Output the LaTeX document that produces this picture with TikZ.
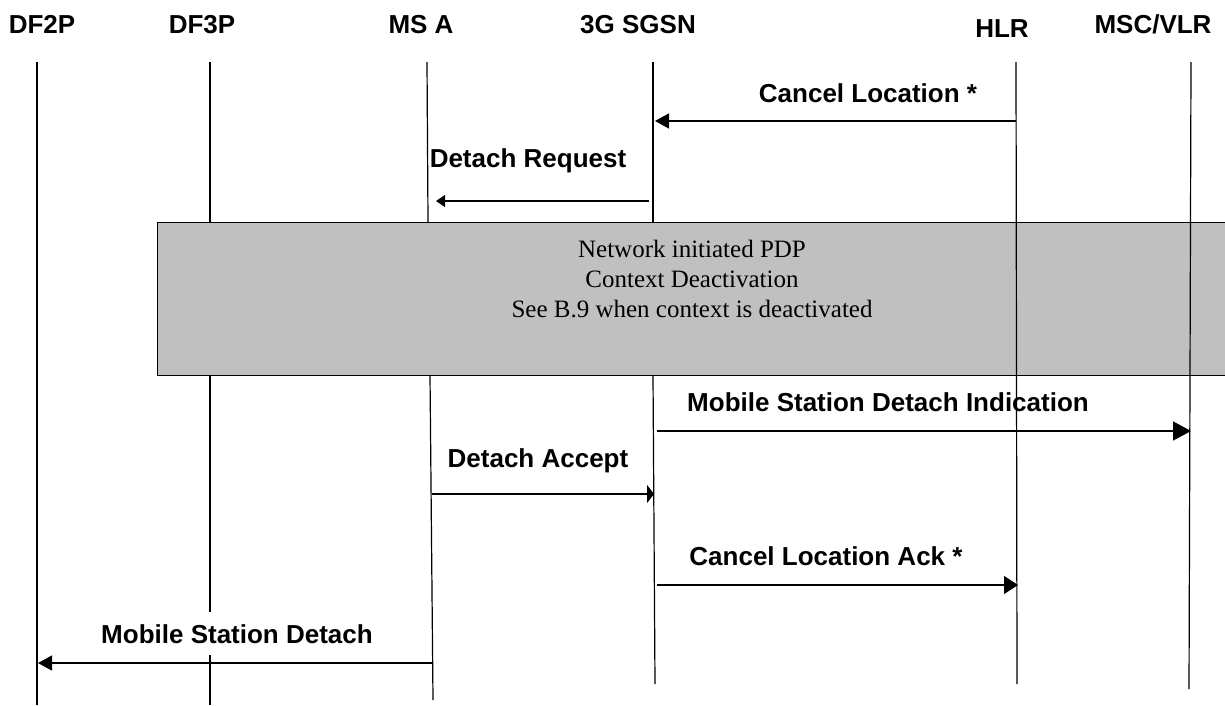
\documentclass[tikz,border=0pt]{standalone}
\usepackage{fontspec}
\setmainfont{Liberation Serif}
\setsansfont{Liberation Sans}
\usetikzlibrary{arrows.meta}

\begin{document}
\begin{tikzpicture}[x=1pt, y=-1pt,
    party/.style={font=\sffamily\bfseries\fontsize{26}{30}\selectfont, inner sep=0pt, anchor=base},
    msglabel/.style={font=\sffamily\bfseries\fontsize{26}{30}\selectfont, inner sep=0pt, anchor=base},
    lifeline/.style={line width=1.2pt},
    msg/.style={line width=1.3pt, -{Triangle[length=14pt,width=15pt]}}]
    \definecolor{myBoxcol}{RGB}{192,192,192}
    \useasboundingbox (0,0) rectangle (1225,705);

    % parties
    \node[party] (df2p) at (42,33) {DF2P};
    \node[party] (df3p) at (202,33) {DF3P};
    \node[party] (msa) at (421,33) {MS A};
    \node[party] (sgsn) at (638,33) {3G SGSN};
    \node[party] (hlr) at (1002,37) {HLR};
    \node[party] (msc) at (1153,33) {MSC/VLR};

    % lifeline ends
    \coordinate (df2p-top) at (37,62);   \coordinate (df2p-bot) at (37,705);
    \coordinate (df3p-top) at (210,62);  \coordinate (df3p-bot) at (210,705);
    \coordinate (msa-top) at (427,62);   \coordinate (msa-bot) at (433,700);
    \coordinate (sgsn-top) at (653,62);  \coordinate (sgsn-bot) at (655,684);
    \coordinate (hlr-top) at (1016,62);  \coordinate (hlr-bot) at (1017,684);
    \coordinate (msc-top) at (1191,62);  \coordinate (msc-bot) at (1189,689);

    % deactivation block
    \node[draw, fill=myBoxcol, line width=1.2pt, anchor=north west,
          minimum width=1090pt, minimum height=153pt] (deact) at (157,222) {};
    \node[font=\fontsize{25}{30}\selectfont, align=center, inner sep=0pt, anchor=north]
        (deacttext) at (692,240) {Network initiated PDP\\Context Deactivation\\See B.9 when context is deactivated};

    \draw[lifeline] (df2p-top) -- (df2p-bot);
    \draw[lifeline] (df3p-top) -- (df3p-top |- deact.north);
    \draw[lifeline] (df3p-top |- deact.south) -- (df3p-bot);
    \draw[lifeline] (msa-top) -- (428,222);
    \draw[lifeline] (430,375) -- (msa-bot);
    \draw[lifeline] (sgsn-top) -- (sgsn-top |- deact.north);
    \draw[lifeline] (sgsn-top |- deact.south) -- (sgsn-bot);
    \draw[lifeline] (hlr-top) -- (hlr-bot);
    \draw[lifeline] (msc-top) -- (msc-bot);

    % messages
    \coordinate (hlr-m1) at (1016,121);  \coordinate (sgsn-m1) at (655,121);
    \coordinate (sgsn-m2) at (649,201);  \coordinate (msa-m2) at (436,201);
    \coordinate (sgsn-m3) at (657,431);  \coordinate (msc-m3) at (1191,431);
    \coordinate (msa-m4) at (432,494);   \coordinate (sgsn-m4) at (654,494);
    \coordinate (sgsn-m5) at (657,585);  \coordinate (hlr-m5) at (1018,585);
    \coordinate (msa-m6) at (432,663);   \coordinate (df2p-m6) at (38,663);

    \draw[msg] (hlr-m1) -- (sgsn-m1);
    \node[msglabel] (cancelloc) at (868,102) {Cancel Location *};

    \draw[msg, -{Triangle[length=9pt,width=12pt]}] (sgsn-m2) -- (msa-m2);
    \node[msglabel] (detachreq) at (528,167) {Detach Request};

    \draw[msg, -{Triangle[length=18pt,width=19pt]}] (sgsn-m3) -- (msc-m3);
    \node[msglabel] (msdetachind) at (888,411) {Mobile Station Detach Indication};

    \draw[msg, -{Triangle[length=7pt,width=18pt]}] (msa-m4) -- (sgsn-m4);
    \node[msglabel] (detachacc) at (538,467) {Detach Accept};

    \draw[msg, -{Triangle[length=14pt,width=18pt]}] (sgsn-m5) -- (hlr-m5);
    \node[msglabel] (cancellocack) at (826,565) {Cancel Location Ack *};

    \draw[msg] (msa-m6) -- (df2p-m6);
    \node[msglabel, fill=white, inner xsep=3pt, inner ysep=12pt] (msdetach) at (237,643) {Mobile Station Detach};
\end{tikzpicture}
\end{document}
